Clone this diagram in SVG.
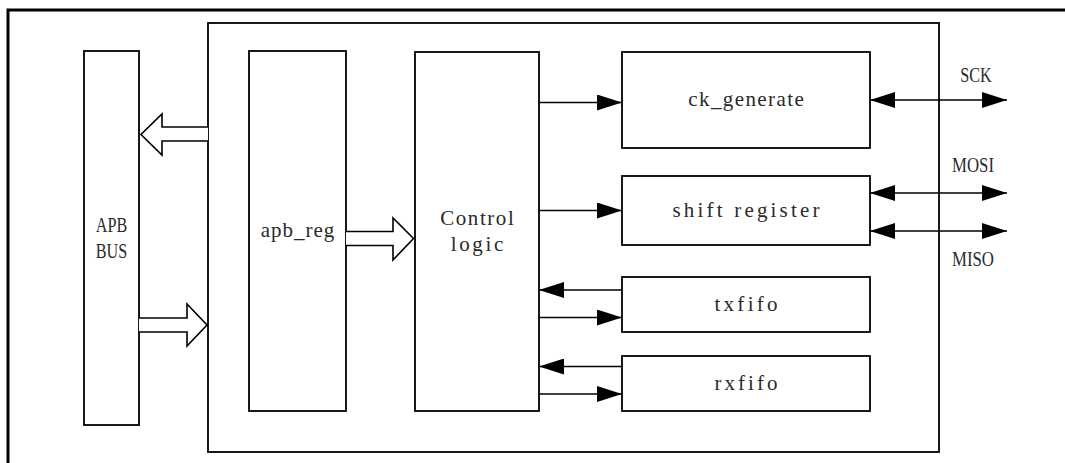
<svg xmlns="http://www.w3.org/2000/svg" width="1065" height="463" viewBox="0 0 1065 463">
<defs>
<style>
.box{fill:#fff;stroke:#000;stroke-width:1.8}
.ln{stroke:#000;stroke-width:1.6;fill:none}
.hol{fill:#fff;stroke:#000;stroke-width:1.6;stroke-linejoin:miter}
.t{font-family:"Liberation Serif","Times New Roman",serif;font-size:21px;fill:#2a2a2a;text-anchor:middle}
</style>
<marker id="ah" viewBox="0 0 25 16" refX="25" refY="8" markerWidth="25" markerHeight="16" markerUnits="userSpaceOnUse" orient="auto-start-reverse">
<path d="M0,0 L25,8 L0,16 Z" fill="#000"/>
</marker>
</defs>
<rect x="0" y="0" width="1065" height="463" fill="#fff"/>
<g id="frame"><rect x="8" y="10" width="1100" height="500" fill="none" stroke="#000" stroke-width="3"/></g>
<g id="spi"><rect class="box" x="208" y="23" width="731" height="429"/></g>
<g id="apb_bus"><rect class="box" x="84" y="51" width="55" height="374"/>
<text class="t" x="111.5" y="231.5" textLength="31.5" lengthAdjust="spacingAndGlyphs">APB</text><text class="t" x="111.5" y="257.5" textLength="31.5" lengthAdjust="spacingAndGlyphs">BUS</text></g>
<g id="apb_reg"><rect class="box" x="249" y="51" width="97" height="360"/>
<text class="t" x="297.5" y="237" textLength="73.5" lengthAdjust="spacing">apb_reg</text></g>
<g id="control"><rect class="box" x="415" y="52" width="124" height="359"/>
<text class="t" x="477" y="225" textLength="73.5" lengthAdjust="spacing">Control</text><text class="t" x="477" y="250.5" textLength="52.5" lengthAdjust="spacing">logic</text></g>
<g id="ck_generate"><rect class="box" x="622" y="52" width="248" height="96"/>
<text class="t" x="746" y="106" textLength="115.5" lengthAdjust="spacing">ck_generate</text></g>
<g id="shift_register"><rect class="box" x="622" y="176" width="248" height="69"/>
<text class="t" x="746" y="216.5" textLength="147" lengthAdjust="spacing">shift register</text></g>
<g id="txfifo"><rect class="box" x="622" y="277" width="248" height="55"/>
<text class="t" x="746" y="310.5" textLength="63" lengthAdjust="spacing">txfifo</text></g>
<g id="rxfifo"><rect class="box" x="622" y="356" width="248" height="55"/>
<text class="t" x="746" y="390" textLength="63" lengthAdjust="spacing">rxfifo</text></g>
<g id="connectors">
<path class="hol" d="M208,127 L162,127 L162,114 L141,134.5 L162,155 L162,141 L208,141"/>
<path class="hol" d="M139,318 L187,318 L187,304 L207,325 L187,346 L187,332 L139,332"/>
<path class="hol" d="M346,231.5 L393,231.5 L393,218 L413.5,238.5 L393,260 L393,245.5 L346,245.5"/>
<line class="ln" x1="539" y1="102.5" x2="622" y2="102.5" marker-end="url(#ah)"/>
<line class="ln" x1="539" y1="210.5" x2="622" y2="210.5" marker-end="url(#ah)"/>
<line class="ln" x1="622" y1="290" x2="539" y2="290" marker-end="url(#ah)"/>
<line class="ln" x1="539" y1="317.5" x2="622" y2="317.5" marker-end="url(#ah)"/>
<line class="ln" x1="622" y1="366.5" x2="539" y2="366.5" marker-end="url(#ah)"/>
<line class="ln" x1="539" y1="394" x2="622" y2="394" marker-end="url(#ah)"/>
<line class="ln" x1="870" y1="100" x2="1007" y2="100" marker-start="url(#ah)" marker-end="url(#ah)"/>
<line class="ln" x1="870" y1="193" x2="1007" y2="193" marker-start="url(#ah)" marker-end="url(#ah)"/>
<line class="ln" x1="870" y1="231" x2="1007" y2="231" marker-start="url(#ah)" marker-end="url(#ah)"/>
</g>
<g id="labels">
<text class="t" x="976" y="82" textLength="31.5" lengthAdjust="spacingAndGlyphs">SCK</text>
<text class="t" x="973" y="172" textLength="42" lengthAdjust="spacingAndGlyphs">MOSI</text>
<text class="t" x="973" y="266" textLength="42" lengthAdjust="spacingAndGlyphs">MISO</text>
</g>
</svg>
